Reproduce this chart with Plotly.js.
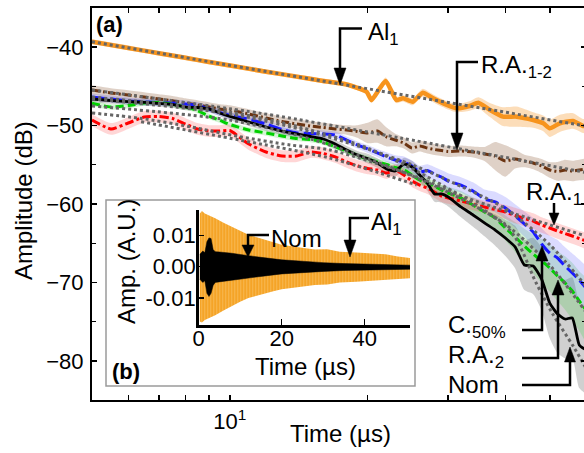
<!DOCTYPE html>
<html>
<head>
<meta charset="utf-8">
<script src="https://cdn.plot.ly/plotly-3.0.1.min.js"></script>
<style>
html,body{margin:0;padding:0;overflow:hidden;background:#fff;}
#chart{width:590px;height:453px;}
</style>
</head>
<body>
<div id="chart"></div>
<script>
// ---------- DATA ----------
// common time grid (µs) for the main panel
const T = [5,5.5,6,6.5,7,7.5,8,8.5,9,9.5,
  10,11,12,13,14,15,16,17,18,19,20,21,22,23,24,25,26,27,28,29,30,
  32,34,36,38,40,42,44,46,48,50,52,54,56,58,60];

// Al1 has its own (denser) time samples
const T_AL1 = [5,6,7,8,9,10,12,14,16,18,19.9,20.4,21.9,23.1,23.9,25.1,26.4,27.8,29.8,31.3,33.4,34.9,37.0,39.5,42.3,46.0,48.4,50.0,52.6,56.2,59.1,60];
const AL1 = [-39.30,-40.09,-40.78,-41.35,-41.88,-42.33,-43.12,-43.75,-44.30,-44.76,-45.68,-46.73,-44.31,-46.73,-46.52,-46.95,-45.80,-46.52,-47.37,-47.79,-47.50,-47.08,-48.01,-48.86,-48.86,-49.29,-49.71,-50.34,-49.71,-49.41,-50.05,-50.05];
const AL1_SPREAD = [0.3,0.3,0.3,0.3,0.3,0.3,0.3,0.3,0.3,0.3,0.35,0.4,0.45,0.4,0.4,0.45,0.5,0.5,0.5,0.5,0.6,0.7,0.9,1.2,1.3,1.0,1.0,1.1,1.1,1.0,0.9,0.9];

const RA12 = [-45.46,-45.84,-46.10,-46.35,-46.61,-46.82,-47.12,-47.37,-47.63,-47.88,
  -48.01,-48.52,-49.03,-49.48,-49.80,-50.05,-50.24,-50.43,-50.56,-50.75,-50.94,-50.69,-51.45,-51.84,-52.22,-52.86,-52.60,-52.86,-53.05,-53.18,-53.30,
  -53.24,-53.37,-53.62,-53.88,-54.52,-54.26,-54.52,-54.77,-55.15,-55.66,-55.85,-55.66,-55.79,-55.66,-55.54];
const RA12_SPREAD = [0.6,0.6,0.6,0.6,0.6,0.6,0.6,0.6,0.6,0.6,
  0.6,0.6,0.6,0.6,0.6,0.6,0.6,0.6,0.6,0.8,1.3,1.5,1.2,0.8,0.7,0.7,0.7,0.7,0.7,0.7,0.7,
  0.7,0.7,0.9,1.8,2.0,1.2,0.8,0.8,0.9,1.0,1.2,1.3,1.3,1.3,1.3];

const NOM = [-46.61,-46.80,-46.93,-47.05,-47.18,-47.31,-47.63,-47.69,-47.88,-48.39,
  -48.83,-49.54,-50.18,-50.69,-51.07,-51.39,-51.71,-52.35,-53.11,-53.75,-54.20,-54.77,-55.54,-55.79,-54.90,-55.28,-56.30,-57.32,-58.72,-58.72,-59.11,
  -60.38,-61.40,-62.42,-63.32,-64.34,-65.48,-67.78,-67.91,-69.57,-72.63,-74.03,-74.67,-74.54,-77.98,-78.62];
const NOM_SPREAD = [0.4,0.4,0.4,0.4,0.4,0.4,0.4,0.4,0.4,0.4,
  0.5,0.5,0.5,0.5,0.5,0.5,0.5,0.5,0.5,0.5,0.6,0.6,0.7,0.7,0.8,0.8,0.9,1.0,1.0,1.1,1.2,
  1.3,1.5,1.7,2.0,2.3,2.7,3.2,3.6,4.0,4.5,5.0,5.0,5.2,5.5,5.5];

const RA2 = [-47.16,-47.63,-47.44,-47.12,-47.05,-47.31,-47.63,-48.07,-48.80,-49.30,
  -49.86,-50.56,-50.94,-51.33,-51.65,-51.77,-52.09,-52.73,-53.24,-53.81,-54.26,-54.64,-54.96,-55.34,-55.66,-56.30,-56.94,-57.32,-57.70,-58.21,-58.60,
  -59.23,-60.13,-61.02,-61.79,-63.06,-64.21,-65.36,-66.38,-67.27,-68.16,-69.18,-70.08,-71.10,-72.37,-73.52];
const RA2_SPREAD = [0.35,0.35,0.35,0.35,0.35,0.35,0.35,0.35,0.35,0.35,
  0.35,0.35,0.35,0.35,0.35,0.35,0.35,0.35,0.35,0.35,0.4,0.4,0.45,0.45,0.5,0.5,0.6,0.6,0.7,0.7,0.8,
  0.9,1.0,1.2,1.4,1.6,1.9,2.2,2.5,2.8,3.0,3.2,3.4,3.6,3.8,4.0];

const C50 = [-46.35,-46.61,-46.86,-46.99,-47.05,-47.12,-47.24,-47.44,-47.88,-48.33,
  -48.71,-49.16,-49.80,-50.50,-50.94,-51.01,-51.07,-51.20,-51.84,-52.47,-52.98,-53.49,-54.00,-54.39,-54.64,-55.15,-55.92,-55.73,-56.17,-56.56,-57.07,
  -57.58,-58.34,-59.36,-59.74,-60.51,-61.53,-62.55,-63.57,-65.10,-66.25,-66.89,-67.91,-68.80,-69.69,-70.71];
const C50_SPREAD = [0.45,0.45,0.45,0.45,0.45,0.45,0.45,0.45,0.45,0.45,
  0.45,0.45,0.45,0.45,0.45,0.45,0.45,0.45,0.45,0.45,0.5,0.5,0.6,0.6,0.7,0.7,0.8,0.8,0.9,0.9,1.0,
  1.0,1.1,1.2,1.3,1.4,1.5,1.6,1.8,2.0,2.2,2.3,2.4,2.5,2.6,2.7];

const RA1 = [-49.29,-50.43,-49.67,-48.90,-48.84,-49.09,-49.80,-50.43,-50.69,-50.69,
  -50.63,-52.35,-53.37,-53.88,-53.88,-53.37,-53.56,-54.00,-54.64,-55.15,-55.47,-55.66,-56.05,-55.66,-56.30,-57.07,-57.58,-57.96,-58.47,-58.98,-59.23,
  -59.62,-60.00,-60.38,-60.70,-61.02,-61.47,-61.85,-62.17,-62.68,-63.06,-63.44,-63.76,-64.08,-64.40,-64.72];
const RA1_SPREAD = [0.75,0.75,0.75,0.75,0.75,0.75,0.75,0.75,0.75,0.75,
  0.75,0.75,0.75,0.75,0.75,0.75,0.75,0.75,0.75,0.75,0.75,0.75,0.75,0.75,0.75,0.75,0.75,0.75,0.75,0.75,0.75,
  0.8,0.8,0.8,0.9,0.9,1.0,1.0,1.0,1.0,1.0,1.0,1.0,1.0,1.0,1.0];

// fitted decay lines (grey dotted)
const FIT_AL1_T = [5, 60];
const FIT_AL1 = [-39.30, -50.05];
const FIT_RA12_T = [5, 11.7, 23.6, 60];
const FIT_RA12 = [-45.46, -48.44, -51.58, -55.98];
const FIT_NOM_T = [5, 10, 14.2, 20, 27.8, 40.9, 46.7, 50.6, 56.4, 60];
const FIT_NOM = [-46.35, -48.27, -50.18, -52.86, -56.94, -63.32, -70.08, -73.90, -78.24, -80.92];
const FIT_C50_T = [5, 10, 15, 20, 25, 30, 40, 50, 60];
const FIT_C50 = [-46.6, -48.5, -50.8, -53.0, -55.0, -57.0, -60.6, -65.2, -70.5];
const FIT_RA2_T = [5, 10, 15, 20, 25, 30, 40, 50, 60];
const FIT_RA2 = [-47.5, -49.3, -51.7, -54.2, -56.4, -58.5, -62.6, -67.8, -73.8];
const FIT_RA1_T = [5, 6.37, 8.18, 10.53, 13.54, 16.55, 25.64, 32.97, 59];
const FIT_RA1 = [-48.39, -49.07, -50.14, -51.42, -52.47, -53.11, -56.56, -59.23, -63.95];
const FIT_RA1B_T = [6.4, 10.5, 16.5, 25.6];
const FIT_RA1B = [-49.5, -51.84, -54.13, -57.58];

// inset (b): envelopes of the time signals
const INSET_AL1_T = [0.3,0.8,1.5,2.5,4,6,8,10,12,15,18,20,24,28,31,34,38,42,45,48,51];
const INSET_AL1_UP = [0.017,0.0178,0.017,0.0165,0.0155,0.014,0.0128,0.0115,0.0102,0.009,0.0078,0.007,0.0062,0.0055,0.0056,0.0048,0.0045,0.0042,0.004,0.0033,0.0028];
const INSET_AL1_LO = [-0.0175,-0.0178,-0.017,-0.0165,-0.0155,-0.014,-0.0125,-0.0112,-0.01,-0.0088,-0.0078,-0.0072,-0.0065,-0.0058,-0.0057,-0.005,-0.0048,-0.0045,-0.0043,-0.004,-0.0037];
const INSET_NOM_T = [0.3,1,1.5,2,2.5,3,3.5,4,5,6,8,10,12,15,20,25,30,35,40,45,51];
const INSET_NOM_UP = [0.004,0.005,0.0045,0.008,0.0092,0.009,0.0055,0.0048,0.0047,0.0046,0.0043,0.0039,0.0035,0.003,0.0022,0.0017,0.0013,0.001,0.0008,0.0006,0.0005];
const INSET_NOM_LO = [-0.004,-0.005,-0.0045,-0.0085,-0.0095,-0.0085,-0.006,-0.005,-0.0048,-0.0047,-0.0044,-0.004,-0.0036,-0.0031,-0.0023,-0.0019,-0.0015,-0.0012,-0.001,-0.0009,-0.0008];

const X_TICKS = [5,6,7,8,9,10,20,30,40,50,60];
const X_TICKTEXT = ['','','','','','10<sup>1</sup>','','','','',''];
const Y_TICKS = [-80,-70,-60,-50,-40];
const Y_TICKTEXT = ['\u221280','\u221270','\u221260','\u221250','\u221240'];
const INSET_X_TICKS = [0,20,40];
const INSET_Y_TICKS = [-0.01,0,0.01];
const INSET_Y_TICKTEXT = ['-0.01','0.00','0.01'];

// ---------- BUILD ----------
const FONT = 'Liberation Sans, Arial, sans-serif';
const traces = [];
function band(t, y, s, color) {
  const up = y.map((v,i)=>v+s[i]);
  const lo = y.map((v,i)=>v-s[i]);
  traces.push({x: t.concat(t.slice().reverse()), y: up.concat(lo.reverse()),
    type:'scatter', mode:'lines', fill:'toself', fillcolor:color,
    line:{width:0, shape:'spline', smoothing:0.6}, hoverinfo:'skip', showlegend:false});
}
function curve(t, y, color, width, dash) {
  traces.push({x:t, y:y, type:'scatter', mode:'lines',
    line:{color:color, width:width, dash:dash, shape:'spline', smoothing:0.5}, showlegend:false});
}
function fit(t, y) {
  traces.push({x:t, y:y, type:'scatter', mode:'lines',
    line:{color:'#666666', width:3, dash:'3px,3px', shape:'spline', smoothing:0.8}, showlegend:false});
}

band(T_AL1, AL1, AL1_SPREAD, 'rgba(248,165,70,0.38)');
band(T, RA12, RA12_SPREAD, 'rgba(175,140,115,0.40)');
band(T, NOM, NOM_SPREAD, 'rgba(120,120,120,0.35)');
band(T, RA2, RA2_SPREAD, 'rgba(40,200,40,0.20)');
band(T, C50, C50_SPREAD, 'rgba(90,90,255,0.22)');
band(T, RA1, RA1_SPREAD, 'rgba(255,70,70,0.22)');

curve(T_AL1, AL1, '#F7941D', 4.5, 'solid');
curve(T, RA12, '#6B3412', 3, '8px,3px,2px,3px');
curve(T, RA1, '#FF0000', 3, '9px,3px,3px,3px');
curve(T, C50, '#1A1AFF', 3, '13px,5px');
curve(T, RA2, '#00D000', 3, '8px,4px');
curve(T, NOM, '#000000', 2.8, 'solid');

fit(FIT_AL1_T, FIT_AL1);
fit(FIT_RA12_T, FIT_RA12);
fit(FIT_NOM_T, FIT_NOM);
fit(FIT_C50_T, FIT_C50);
fit(FIT_RA2_T, FIT_RA2);
fit(FIT_RA1_T, FIT_RA1);
fit(FIT_RA1B_T, FIT_RA1B);

// inset traces
traces.push({x: INSET_AL1_T.concat(INSET_AL1_T.slice().reverse()),
  y: INSET_AL1_UP.concat(INSET_AL1_LO.slice().reverse()),
  xaxis:'x2', yaxis:'y2', type:'scatter', mode:'lines', fill:'toself',
  fillcolor:'#F7A21B', line:{width:0}, showlegend:false,
  fillpattern:{shape:'|', size:3, solidity:0.6, fgcolor:'#F39A12', bgcolor:'#FBC46A'}});
traces.push({x: INSET_NOM_T.concat(INSET_NOM_T.slice().reverse()),
  y: INSET_NOM_UP.concat(INSET_NOM_LO.slice().reverse()),
  xaxis:'x2', yaxis:'y2', type:'scatter', mode:'lines', fill:'toself',
  fillcolor:'#000000', line:{width:0.5, color:'#000'}, showlegend:false});

// pixel -> paper helpers (plot area: x 92..586, y 8..400)
const L = 92, TOP = 8, PW = 494, PH = 392;
const px = x => (x - L) / PW;
const py = y => (TOP + PH - y) / PH;

const shapes = [];
// inset frame
shapes.push({type:'rect', xref:'paper', yref:'paper', x0:px(106), x1:px(415), y0:py(200), y1:py(386),
  line:{color:'#9a9a9a', width:1.5}, fillcolor:'#ffffff', layer:'below'});

function arrow(pts, hl, hw) {
  const n = pts.length;
  const [tx, ty] = pts[n-1];
  const [bx, by] = pts[n-2];
  const dx = tx - bx, dy = ty - by, len = Math.hypot(dx, dy);
  const ux = dx/len, uy = dy/len;
  const baseX = tx - ux*hl, baseY = ty - uy*hl;
  let d = 'M ' + px(pts[0][0]) + ',' + py(pts[0][1]);
  for (let i = 1; i < n-1; i++) d += ' L ' + px(pts[i][0]) + ',' + py(pts[i][1]);
  d += ' L ' + px(baseX) + ',' + py(baseY);
  shapes.push({type:'path', xref:'paper', yref:'paper', path:d, line:{color:'#000', width:2.5}});
  const p1 = [baseX - uy*hw, baseY + ux*hw], p2 = [baseX + uy*hw, baseY - ux*hw];
  shapes.push({type:'path', xref:'paper', yref:'paper',
    path:'M ' + px(tx) + ',' + py(ty) + ' L ' + px(p1[0]) + ',' + py(p1[1]) + ' L ' + px(p2[0]) + ',' + py(p2[1]) + ' Z',
    fillcolor:'#000', line:{color:'#000', width:0.5}});
}
arrow([[362,28.5],[340,28.5],[340,85]], 17, 6);
arrow([[478,62],[457,62],[457,150]], 17, 6);
arrow([[554,203],[554,225]], 12, 5);
arrow([[522,330],[542,330],[542,246]], 15, 6);
arrow([[522,358],[558,358],[558,280]], 15, 6);
arrow([[522,385],[570,385],[570,347]], 15, 5.5);
arrow([[269,235],[248,235],[248,257]], 12, 6);
arrow([[369,218],[350,218],[350,257]], 17, 6);

const ann = (text, x, y, size, extra) => Object.assign({text:text, xref:'paper', yref:'paper',
  x:px(x), y:py(y), showarrow:false, font:{family:FONT, size:size, color:'#000'},
  xanchor:'left', yanchor:'middle'}, extra || {});

const annotations = [
  ann('<b>(a)</b>', 109, 24, 22, {xanchor:'center'}),
  ann('Amplitude (dB)', 23, 201, 24, {xanchor:'center', textangle:-90}),
  ann('Time (µs)', 340, 433, 24, {xanchor:'center'}),
  ann('Al<sub>1</sub>', 366, 33, 24),
  ann('R.A.<sub>1-2</sub>', 479, 66, 24),
  ann('R.A.<sub>1</sub>', 524, 193, 24),
  ann('C.<sub>50%</sub>', 446, 326, 24),
  ann('R.A.<sub>2</sub>', 446, 356, 24),
  ann('Nom', 446, 384, 24),
  ann('Nom', 269, 238, 24),
  ann('Al<sub>1</sub>', 369, 223, 24),
  ann('<b>(b)</b>', 126, 371, 22, {xanchor:'center'}),
  ann('Amp. (A.U.)', 126, 262, 24, {xanchor:'center', textangle:-90}),
  ann('Time (µs)', 305, 366, 24, {xanchor:'center'})
];

const layout = {
  width:590, height:453,
  margin:{l:L, r:590-L-PW, t:TOP, b:453-TOP-PH},
  paper_bgcolor:'#fff', plot_bgcolor:'rgba(0,0,0,0)',
  showlegend:false,
  font:{family:FONT, size:22, color:'#000'},
  xaxis:{type:'log', range:[Math.log10(5), Math.log10(60)], domain:[0,1],
    showline:true, linecolor:'#000', linewidth:2, mirror:'ticks',
    ticks:'inside', ticklen:5, tickwidth:1.5, tickcolor:'#000',
    tickvals:X_TICKS, ticktext:X_TICKTEXT, showgrid:false, zeroline:false,
    tickfont:{family:FONT, size:22}, ticklabelstandoff:1},
  yaxis:{range:[-85,-35], domain:[0,1],
    showline:true, linecolor:'#000', linewidth:2, mirror:'ticks',
    ticks:'inside', ticklen:5, tickwidth:1.5, tickcolor:'#000',
    tickvals:Y_TICKS, ticktext:Y_TICKTEXT, showgrid:false, zeroline:false,
    minor:{dtick:5, ticks:'inside', ticklen:4, tickwidth:1.2, tickcolor:'#000', showgrid:false},
    tickfont:{family:FONT, size:22}, ticklabelstandoff:2},
  xaxis2:{anchor:'y2', domain:[px(198.6), px(410)], range:[0, 50.9],
    showline:true, linecolor:'#000', linewidth:2.5, mirror:false,
    ticks:'inside', ticklen:6, tickwidth:1.5, tickcolor:'#000',
    tickvals:INSET_X_TICKS, showgrid:false, zeroline:false,
    tickfont:{family:FONT, size:22}, ticklabelstandoff:-8},
  yaxis2:{anchor:'x2', domain:[py(325), py(210)], range:[-0.0186, 0.0181],
    showline:true, linecolor:'#000', linewidth:2.5, mirror:false,
    ticks:'inside', ticklen:5, tickwidth:1.5, tickcolor:'#000',
    tickvals:INSET_Y_TICKS, ticktext:INSET_Y_TICKTEXT, showgrid:false, zeroline:false,
    tickfont:{family:FONT, size:22}, ticklabelstandoff:-4},
  shapes:shapes,
  annotations:annotations
};

Plotly.newPlot('chart', traces, layout, {staticPlot:true, displayModeBar:false});
</script>
</body>
</html>
